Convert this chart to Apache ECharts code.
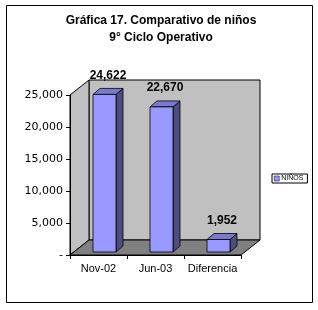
<!DOCTYPE html>
<html><head><meta charset="utf-8">
<script src="https://cdn.jsdelivr.net/npm/echarts@6/dist/echarts.min.js"></script>
<style>html,body{margin:0;padding:0;background:#fff}#c{width:318px;height:310px}</style>
</head><body><div id="c"></div>
<script>
const categories = ['Nov-02', 'Jun-03', 'Diferencia'];
const values = [24622, 22670, 1952];
const seriesName = 'NIÑOS';
const yMax = 25000;
const yStep = 5000;

const chart = echarts.init(document.getElementById('c'), null, {renderer: 'canvas'});
const WDX = 19, WDY = 15; // wall depth
const BDX = 7, BDY = 6;   // bar depth
const FONT = 'Liberation Sans, Arial, sans-serif';

chart.setOption({
  animation: false,
  backgroundColor: '#fff',
  title: {
    text: 'Gráfica 17. Comparativo de niños\n9° Ciclo Operativo',
    left: 156, top: 7, textAlign: 'center',
    textStyle: {fontFamily: FONT, fontSize: 12, fontWeight: 'bold', color: '#000', lineHeight: 17}
  },
  graphic: [{type: 'rect', shape: {x: 6.5, y: 5.5, width: 306, height: 297}, style: {fill: 'none', stroke: '#000', lineWidth: 1}, z: 100}],
  legend: {
    left: 272, top: 174, orient: 'vertical',
    itemWidth: 5, itemHeight: 5, itemGap: 2,
    padding: [1, 4, 1, 2],
    borderColor: '#000', borderWidth: 1,
    icon: 'rect',
    textStyle: {fontFamily: FONT, fontSize: 7, color: '#000', padding: [0, 0, 0, -3]},
    data: [{name: seriesName, itemStyle: {color: '#9999FF', borderColor: '#000', borderWidth: 0.5}}]
  },
  grid: {left: 70, top: 95, width: 171, height: 160},
  xAxis: {
    type: 'category', data: categories, z: 10,
    axisLine: {lineStyle: {color: '#000', width: 1}},
    axisTick: {show: true, length: 4, lineStyle: {color: '#000'}},
    axisLabel: {interval: 0, fontFamily: FONT, fontSize: 11, color: '#000', margin: 8}
  },
  yAxis: {
    type: 'value', min: 0, max: yMax, interval: yStep, z: 10,
    splitLine: {show: false},
    axisLine: {show: true, lineStyle: {color: '#000', width: 1}},
    axisTick: {show: true, length: 4, lineStyle: {color: '#000'}},
    axisLabel: {fontFamily: 'DejaVu Sans, sans-serif', fontSize: 11, color: '#000', margin: 7,
      formatter: v => v === 0 ? '-' : v.toLocaleString('en-US')}
  },
  series: [
    {
      type: 'custom', name: 'walls', silent: true, legendHoverLink: false,
      data: [[0, 0]],
      renderItem: function (params, api) {
        const bw = api.size([1, 0])[0];
        const p0 = api.coord([0, 0]);
        const pT = api.coord([0, yMax]);
        const L = p0[0] - bw / 2, R = L + bw * categories.length;
        const B = p0[1], T = pT[1];
        const st = {stroke: '#000', lineWidth: 1};
        return {type: 'group', children: [
          {type: 'polygon', shape: {points: [[L + WDX, T - WDY], [R + WDX, T - WDY], [R + WDX, B - WDY], [L + WDX, B - WDY]]}, style: Object.assign({fill: '#C0C0C0'}, st)},
          {type: 'polygon', shape: {points: [[L, T], [L + WDX, T - WDY], [L + WDX, B - WDY], [L, B]]}, style: Object.assign({fill: '#C0C0C0'}, st)},
          {type: 'polygon', shape: {points: [[L, B], [R, B], [R + WDX, B - WDY], [L + WDX, B - WDY]]}, style: Object.assign({fill: '#808080'}, st)}
        ]};
      }
    },
    {
      type: 'custom', name: seriesName,
      itemStyle: {color: '#9999FF'},
      data: values.map((v, i) => [i, v]),
      encode: {x: 0, y: 1},
      renderItem: function (params, api) {
        const idx = api.value(0), v = api.value(1);
        const c = api.coord([idx, v]);
        const b = api.coord([idx, 0]);
        const w = 23;
        const x0 = c[0] - 5.5;
        const top = c[1] - 3, bot = b[1] - 3;
        const st = {stroke: '#000', lineWidth: 0.8};
        return {type: 'group', children: [
          {type: 'polygon', shape: {points: [[x0 + w, top], [x0 + w + BDX, top - BDY], [x0 + w + BDX, bot - BDY], [x0 + w, bot]]}, style: Object.assign({fill: '#4D4D80'}, st)},
          {type: 'polygon', shape: {points: [[x0, top], [x0 + w, top], [x0 + w + BDX, top - BDY], [x0 + BDX, top - BDY]]}, style: Object.assign({fill: '#7A7ACC'}, st)},
          {type: 'rect', shape: {x: x0, y: top, width: w, height: bot - top}, style: Object.assign({fill: '#9999FF'}, st)},
          {type: 'text', style: {text: v.toLocaleString('en-US'), x: x0 + w / 2 + 3.5, y: top - BDY - 7,
            align: 'center', verticalAlign: 'bottom', font: 'bold 12px ' + FONT, fill: '#000'}}
        ]};
      }
    }
  ]
});
</script></body></html>
